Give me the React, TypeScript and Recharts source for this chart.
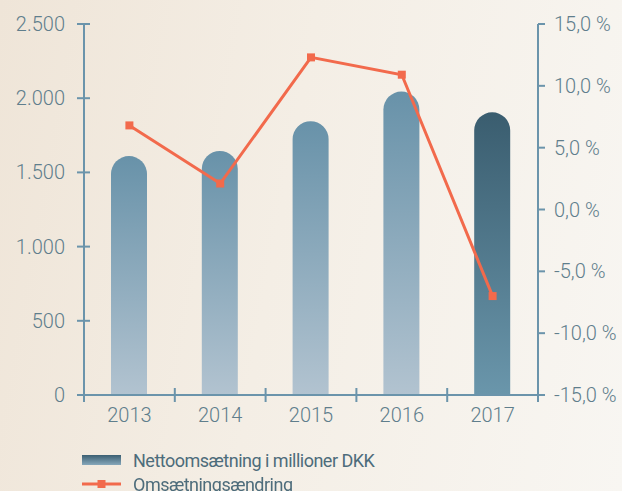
import React from 'react';
import { ComposedChart, Bar, Line, XAxis, YAxis, Cell, Legend } from 'recharts';

const years = ['2013', '2014', '2015', '2016', '2017'];
const revenue = [1610, 1645, 1845, 2045, 1905];
const change = [6.8, 2.1, 12.3, 10.9, -7.0];
const leftTicks = [0, 500, 1000, 1500, 2000, 2500];
const rightTicks = [-15, -10, -5, 0, 5, 10, 15];
const seriesNames = ['Nettoomsætning i millioner DKK', 'Omsætningsændring'];

const data = years.map((y, i) => ({ year: y, revenue: revenue[i], change: change[i] }));

const AXIS = '#6b94ab';
const TEXT = '#5f7e8c';
const LINE = '#f26a4c';
const FONT = 'Roboto, "Noto Sans", sans-serif';

const fmtLeft = (v: number) => (v >= 1000 ? `${Math.floor(v / 1000)}.${String(v % 1000).padStart(3, '0')}` : String(v));
const fmtRight = (v: number) => `${v.toFixed(1).replace('.', ',')} %`;

const LeftTick = (props: any) => {
  const { x, y, payload } = props;
  return (
    <g>
      <line x1={x} x2={x + 13} y1={y} y2={y} stroke={AXIS} strokeWidth={2} />
      <text x={x - 12} y={y} dy={7} textAnchor="end" fill={TEXT} fontSize={20} fontFamily={FONT} fontWeight={300}>
        {fmtLeft(payload.value)}
      </text>
    </g>
  );
};

const RightTick = (props: any) => {
  const { x, y, payload } = props;
  return (
    <text x={x} y={y} dy={7} textAnchor="start" fill={TEXT} fontSize={20} fontFamily={FONT} fontWeight={300}>
      {fmtRight(payload.value)}
    </text>
  );
};

const XTick = (props: any) => {
  const { x, y, payload, index, visibleTicksCount, width } = props;
  const half = payload.offset != null && payload.offset > 0 ? payload.offset : width / visibleTicksCount / 2;
  const last = index === visibleTicksCount - 1;
  return (
    <g>
      {index === 0 && <line x1={x - half} x2={x - half} y1={y} y2={y + 7} stroke={AXIS} strokeWidth={2} />}
      <line x1={x + half} x2={x + half} y1={last ? y : y - 7} y2={y + 7} stroke={AXIS} strokeWidth={2} />
      <text x={x} y={y + 20} dy={7} textAnchor="middle" fill={TEXT} fontSize={20} fontFamily={FONT} fontWeight={300}>
        {payload.value}
      </text>
    </g>
  );
};

const LegendContent = () => (
  <div style={{ fontFamily: FONT, fontSize: 18, letterSpacing: -0.5, color: '#4d6c7b' }}>
    <div style={{ display: 'flex', alignItems: 'center', height: 24 }}>
      <svg width={39} height={10} style={{ marginRight: 12 }}>
        <defs>
          <linearGradient id="legBar" x1="0" y1="0" x2="0" y2="1">
            <stop offset="0%" stopColor="#3b5f72" />
            <stop offset="100%" stopColor="#86a7ba" />
          </linearGradient>
        </defs>
        <rect x={0} y={0} width={39} height={10} fill="url(#legBar)" />
      </svg>
      <span>{seriesNames[0]}</span>
    </div>
    <div style={{ display: 'flex', alignItems: 'center', height: 24 }}>
      <svg width={39} height={10} style={{ marginRight: 12 }}>
        <line x1={0} x2={39} y1={5} y2={5} stroke={LINE} strokeWidth={3} />
        <rect x={15.5} y={1} width={8} height={8} fill={LINE} />
      </svg>
      <span>{seriesNames[1]}</span>
    </div>
  </div>
);

const SquareDot = (props: any) => {
  const { cx, cy } = props;
  if (cx == null || cy == null) return null;
  return <rect x={cx - 4} y={cy - 4} width={8} height={8} fill={LINE} />;
};

export default function App() {
  return (
    <div
      style={{
        position: 'fixed',
        left: 0,
        top: 0,
        width: 622,
        height: 491,
        background: 'linear-gradient(100deg, #efe5d8 0%, #f4eee5 45%, #f8f6f2 100%)',
      }}
    >
      <ComposedChart width={622} height={491} data={data} margin={{ top: 24, right: 0, left: 0, bottom: 18 }}>
        <defs>
          <linearGradient id="gLight" x1="0" y1="0" x2="0" y2="1">
            <stop offset="0%" stopColor="#6892a9" />
            <stop offset="100%" stopColor="#b2c3d0" />
          </linearGradient>
          <linearGradient id="gDark" x1="0" y1="0" x2="0" y2="1">
            <stop offset="0%" stopColor="#3a5d6f" />
            <stop offset="100%" stopColor="#6a96ab" />
          </linearGradient>
        </defs>
        <XAxis
          dataKey="year"
          axisLine={{ stroke: AXIS, strokeWidth: 2 }}
          tickLine={false}
          tickSize={0}
          tickMargin={0}
          height={30}
          tick={<XTick />}
          interval={0}
        />
        <YAxis
          yAxisId="left"
          orientation="left"
          width={84}
          domain={[0, 2500]}
          ticks={leftTicks}
          axisLine={{ stroke: AXIS, strokeWidth: 2 }}
          tickLine={false}
          tickSize={7}
          tickMargin={0}
          tick={<LeftTick />}
          interval={0}
        />
        <YAxis
          yAxisId="right"
          orientation="right"
          width={84}
          domain={[-15, 15]}
          ticks={rightTicks}
          axisLine={{ stroke: AXIS, strokeWidth: 2 }}
          tickLine={{ stroke: AXIS, strokeWidth: 2 }}
          tickSize={7}
          tickMargin={9}
          tick={<RightTick />}
          interval={0}
        />
        <Bar yAxisId="left" dataKey="revenue" name={seriesNames[0]} barSize={36} radius={[18, 18, 0, 0]} isAnimationActive={false}>
          {data.map((d, i) => (
            <Cell key={d.year} fill={i === data.length - 1 ? 'url(#gDark)' : 'url(#gLight)'} />
          ))}
        </Bar>
        <Line
          yAxisId="right"
          dataKey="change"
          name={seriesNames[1]}
          stroke={LINE}
          strokeWidth={3}
          dot={<SquareDot />}
          activeDot={false}
          isAnimationActive={false}
        />
        <Legend
          content={<LegendContent />}
          wrapperStyle={{ position: 'absolute', left: 82, top: 448, bottom: 'auto', width: 'auto', height: 48 }}
        />
      </ComposedChart>
    </div>
  );
}
